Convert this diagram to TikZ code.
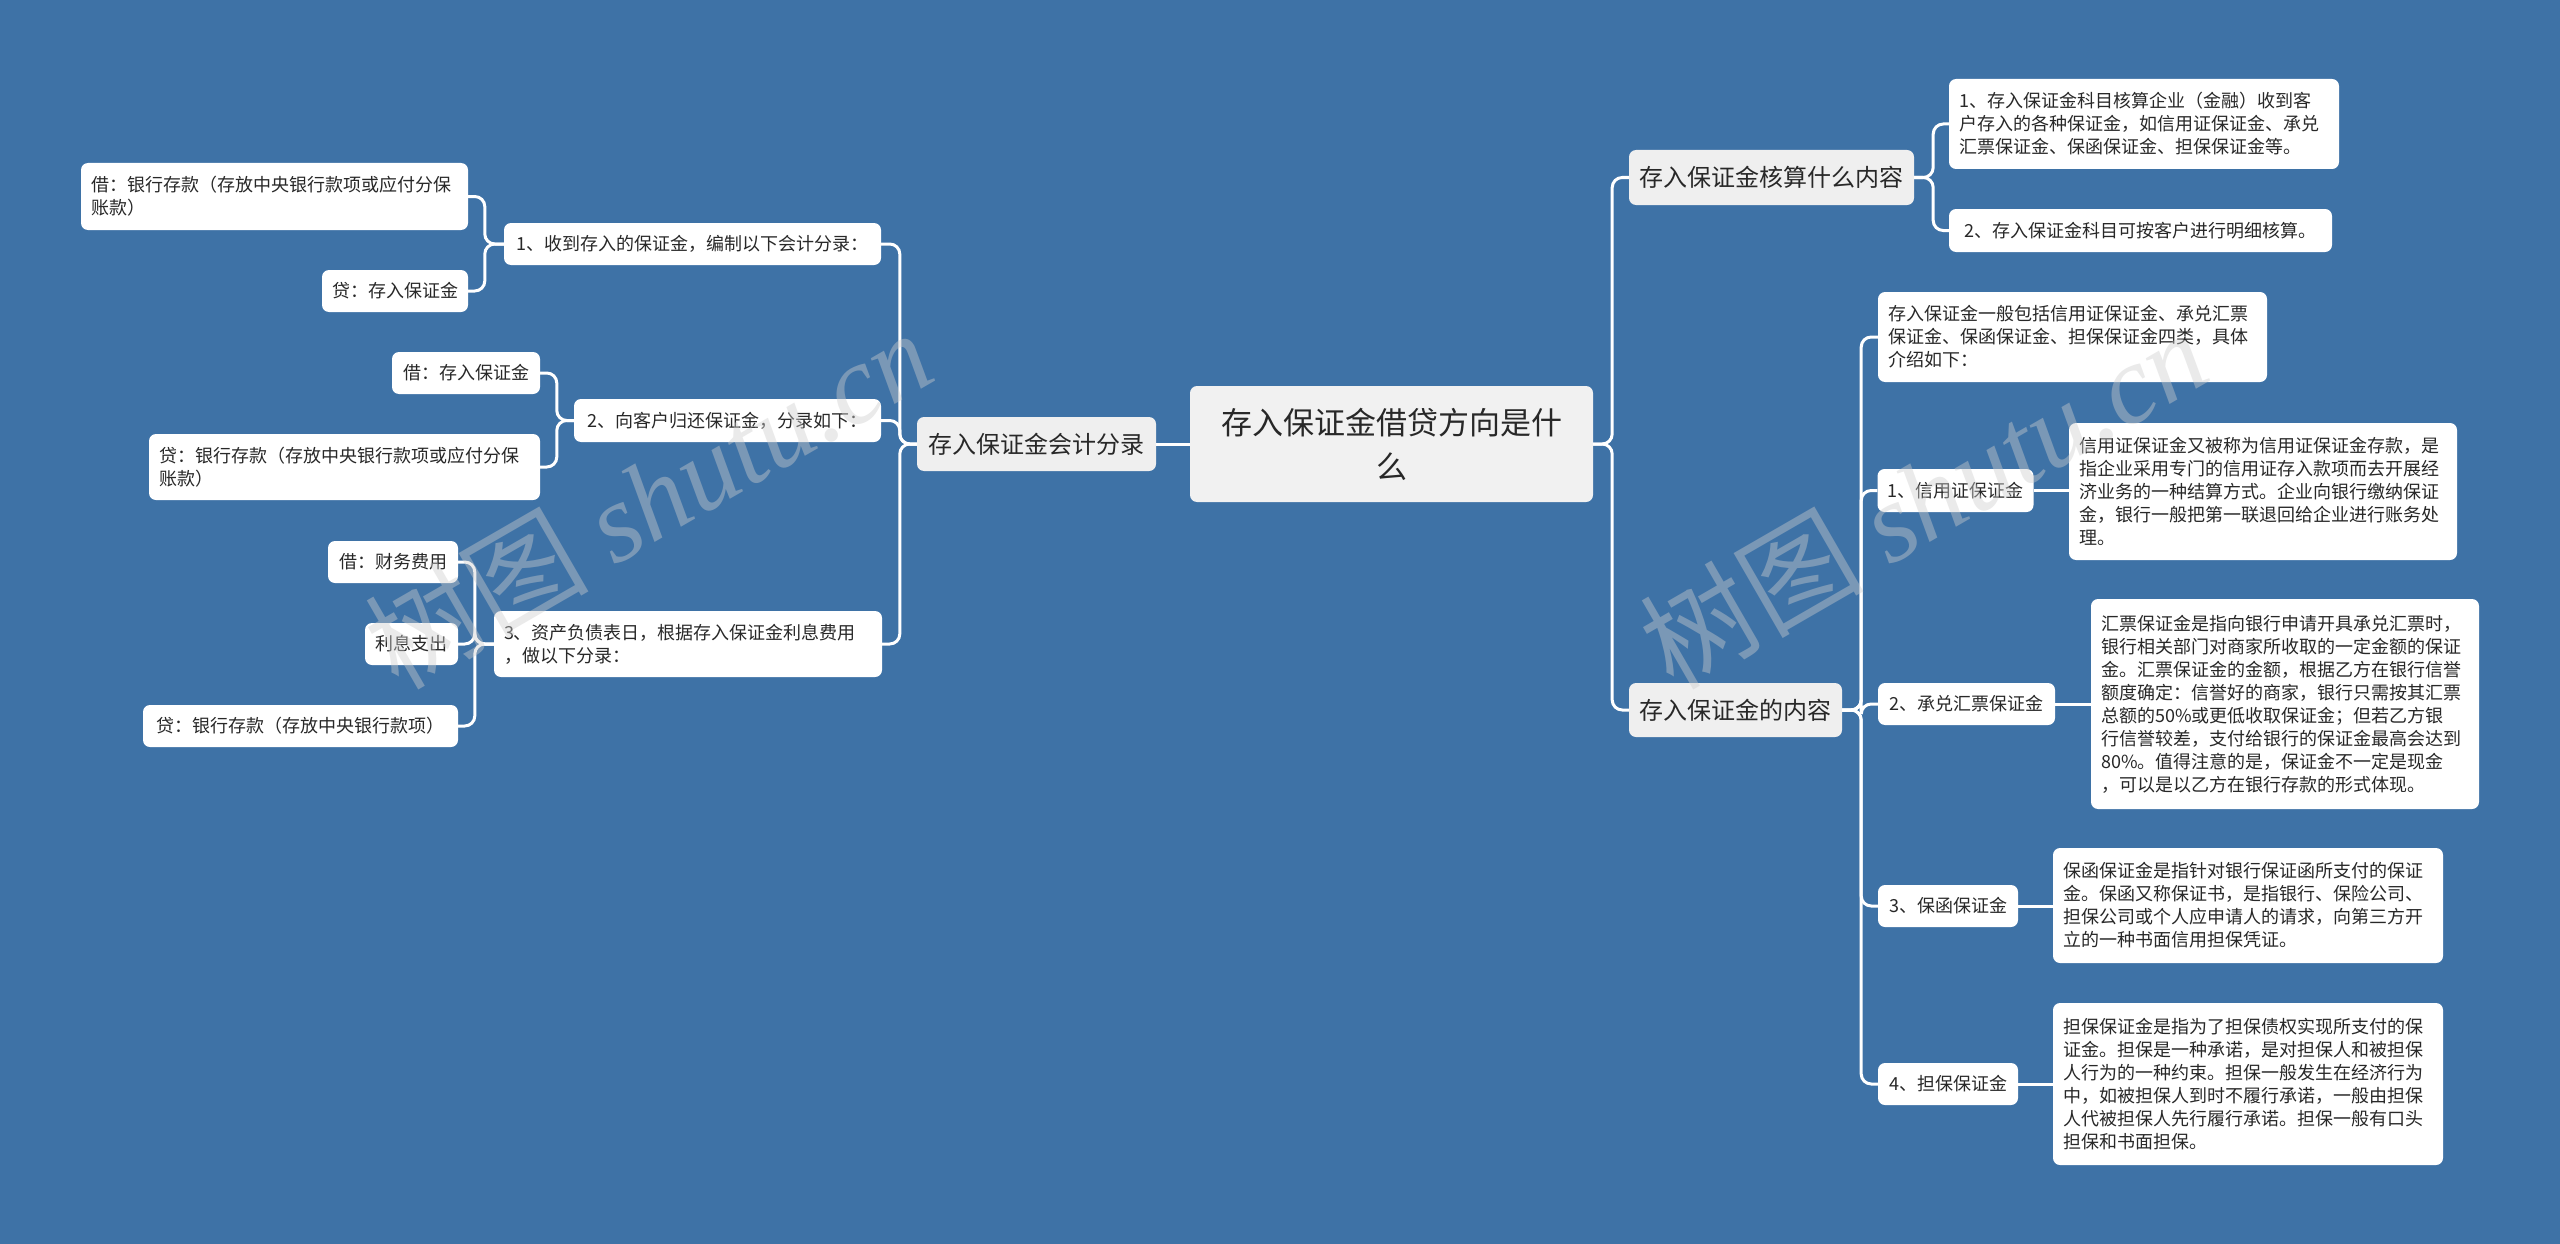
\documentclass[tikz,border=0pt]{standalone}
\usepackage{fontspec}
\setmainfont{Noto Sans CJK SC}
\newfontfamily\wmlatin{Liberation Serif}
\definecolor{bg}{RGB}{62,114,166}
\definecolor{rootc}{RGB}{241,241,241}
\definecolor{lonec}{RGB}{239,239,239}
\definecolor{txt}{RGB}{40,40,40}
\definecolor{wm}{RGB}{205,205,205}
\tikzset{
  box/.style={rounded corners=7pt, inner xsep=10pt, inner ysep=0pt, text=txt, align=left},
  leaf/.style={box, fill=white, font=\fontsize{18}{23}\selectfont},
  lone/.style={box, fill=lonec, font=\fontsize{24}{30}\selectfont},
  rootbox/.style={box, fill=rootc, align=center, font=\fontsize{31}{44}\selectfont},
  conn/.style={draw=white, line width=3pt, rounded corners=10pt},
  wmark/.style={rotate=30, text=wm, opacity=0.42, font=\fontsize{112}{112}\selectfont}
}
\begin{document}
\begin{tikzpicture}[x=1pt,y=-1pt]
\fill[bg] (0,0) rectangle (2560,1244);
\useasboundingbox (0,0) rectangle (2560,1244);

% root
\node[rootbox, minimum width=403, minimum height=116] (root) at (1391.5,444) {存入保证金借贷方向是什\\么};

% left main branch
\node[lone, minimum width=239, minimum height=54] (L1) at (1036.5,444) {存入保证金会计分录};
\node[leaf, minimum width=377, minimum height=42] (c1) at (692.5,244) {1、收到存入的保证金，编制以下会计分录：};
\node[leaf, text width=367, minimum height=67] (c1a) at (274.5,196.5) {借：银行存款（存放中央银行款项或应付分保\\账款）};
\node[leaf, minimum width=146, minimum height=42] (c1b) at (395,291) {贷：存入保证金};
\node[leaf, minimum width=307, minimum height=43] (c2) at (727.5,420.5) {2、向客户归还保证金，分录如下：};
\node[leaf, minimum width=148, minimum height=42] (c2a) at (466,373) {借：存入保证金};
\node[leaf, text width=371, minimum height=66] (c2b) at (344.5,467) {贷：银行存款（存放中央银行款项或应付分保\\账款）};
\node[leaf, text width=368, minimum height=66] (c3) at (688,644) {3、资产负债表日，根据存入保证金利息费用\\，做以下分录：};
\node[leaf, minimum width=130, minimum height=42] (c3a) at (393,562) {借：财务费用};
\node[leaf, minimum width=93, minimum height=42] (c3b) at (411.5,644) {利息支出};
\node[leaf, minimum width=315, minimum height=42] (c3c) at (300.5,726) {贷：银行存款（存放中央银行款项）};

% right main branches
\node[lone, minimum width=285, minimum height=55] (R1) at (1771.5,177.5) {存入保证金核算什么内容};
\node[lone, minimum width=213, minimum height=54] (R2) at (1735.5,710) {存入保证金的内容};

\node[leaf, text width=370, minimum height=90] (a1) at (2144,124) {1、存入保证金科目核算企业（金融）收到客\\户存入的各种保证金，如信用证保证金、承兑\\汇票保证金、保函保证金、担保保证金等。};
\node[leaf, minimum width=383, minimum height=43] (a2) at (2140.5,230.5) {2、存入保证金科目可按客户进行明细核算。};

\node[leaf, text width=369, minimum height=90] (b0) at (2072.5,337) {存入保证金一般包括信用证保证金、承兑汇票\\保证金、保函保证金、担保保证金四类，具体\\介绍如下：};
\node[leaf, minimum width=155, minimum height=43] (b1) at (1955.5,490.5) {1、信用证保证金};
\node[leaf, text width=368, minimum height=137] (b1d) at (2263,491.5) {信用证保证金又被称为信用证保证金存款，是\\指企业采用专门的信用证存入款项而去开展经\\济业务的一种结算方式。企业向银行缴纳保证\\金，银行一般把第一联退回给企业进行账务处\\理。};
\node[leaf, minimum width=177, minimum height=42] (b2) at (1966.5,704) {2、承兑汇票保证金};
\node[leaf, text width=368, minimum height=210] (b2d) at (2285,704) {汇票保证金是指向银行申请开具承兑汇票时，\\银行相关部门对商家所收取的一定金额的保证\\金。汇票保证金的金额，根据乙方在银行信誉\\额度确定：信誉好的商家，银行只需按其汇票\\总额的50\%或更低收取保证金；但若乙方银\\行信誉较差，支付给银行的保证金最高会达到\\80\%。值得注意的是，保证金不一定是现金\\，可以是以乙方在银行存款的形式体现。};
\node[leaf, minimum width=140, minimum height=42] (b3) at (1948,906) {3、保函保证金};
\node[leaf, text width=370, minimum height=115] (b3d) at (2248,905.5) {保函保证金是指针对银行保证函所支付的保证\\金。保函又称保证书，是指银行、保险公司、\\担保公司或个人应申请人的请求，向第三方开\\立的一种书面信用担保凭证。};
\node[leaf, minimum width=140, minimum height=42] (b4) at (1948,1084) {4、担保保证金};
\node[leaf, text width=370, minimum height=162] (b4d) at (2248,1084) {担保保证金是指为了担保债权实现所支付的保\\证金。担保是一种承诺，是对担保人和被担保\\人行为的一种约束。担保一般发生在经济行为\\中，如被担保人到时不履行承诺，一般由担保\\人代被担保人先行履行承诺。担保一般有口头\\担保和书面担保。};

% connectors
\draw[conn] (root.west) -- (L1.east);
\foreach \c in {c1,c2,c3} \draw[conn] (L1.west) -- ++(-17,0) |- (\c.east);
\foreach \c in {c1a,c1b} \draw[conn] (c1.west) -- ++(-19,0) |- (\c.east);
\foreach \c in {c2a,c2b} \draw[conn] (c2.west) -- ++(-17,0) |- (\c.east);
\foreach \c in {c3a,c3b,c3c} \draw[conn] (c3.west) -- ++(-19,0) |- (\c.east);
\foreach \c in {R1,R2} \draw[conn] (root.east) -- ++(19,0) |- (\c.west);
\foreach \c in {a1,a2} \draw[conn] (R1.east) -- ++(19,0) |- (\c.west);
\foreach \c in {b0,b1,b2,b3,b4} \draw[conn] (R2.east) -- ++(19,0) |- (\c.west);
\draw[conn] (b1.east) -- (b1.east -| b1d.west);
\draw[conn] (b2.east) -- (b2.east -| b2d.west);
\draw[conn] (b3.east) -- (b3.east -| b3d.west);
\draw[conn] (b4.east) -- (b4.east -| b4d.west);

% watermarks
\node[wmark] (wm1) at (648,498) {树图 {\wmlatin\itshape shutu.cn}};
\node[wmark] (wm2) at (1923,498) {树图 {\wmlatin\itshape shutu.cn}};
\end{tikzpicture}
\end{document}
